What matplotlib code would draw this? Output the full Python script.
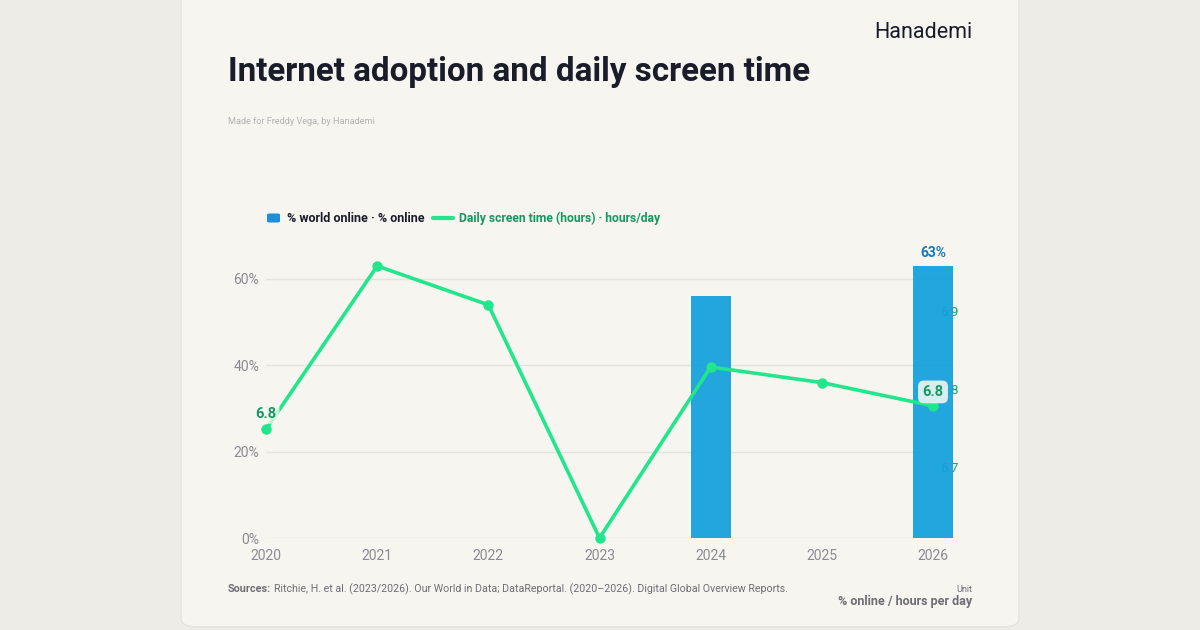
import numpy as np
import matplotlib
matplotlib.use("Agg")
import matplotlib.pyplot as plt
from matplotlib.patches import FancyBboxPatch
import matplotlib.transforms as mtransforms

# ---- data ----
years = ["2020", "2021", "2022", "2023", "2024", "2025", "2026"]
pct_online = [np.nan, np.nan, np.nan, np.nan, 56, np.nan, 63]
screen_time = [6.75, 6.96, 6.91, 6.61, 6.83, 6.81, 6.78]
left_ticks = [0, 20, 40, 60]
left_tick_labels = ["0%", "20%", "40%", "60%"]
right_ticks = [6.7, 6.8, 6.9]
right_tick_labels = ["6.7", "6.8", "6.9"]

BAR = "#12a0dc"
LINE = "#22e68b"
GREEN_TXT = "#13985f"
GREY = "#8a8b93"
DARK = "#1a1c2a"

plt.rcParams['font.family'] = ['Roboto', 'DejaVu Sans']

W, H = 1200, 630
fig = plt.figure(figsize=(12, 6.3), dpi=100)
fig.patch.set_facecolor("#eeece7")

def fx(x):
    return x / W

def fy(y):
    return 1 - y / H

card = FancyBboxPatch((fx(181), fy(627)), fx(838), fy(-30) - fy(627),
                      boxstyle="round,pad=0,rounding_size=0.014",
                      transform=fig.transFigure, facecolor="#f7f5f0",
                      edgecolor="#e4e2dc", linewidth=1, zorder=-5)
fig.patches.append(card)

# ---- axes ----
x = np.arange(len(years))
left, right = 266, 953
bottom, top = 538, 266
ax = fig.add_axes([fx(left), fy(bottom), fx(right - left), (bottom - top) / H])
ax.set_facecolor("none")
ax2 = ax.twinx()
ax2.set_facecolor("none")

xmax = (right - left) / ((933 - 266) / 6)
ax.set_xlim(0, xmax)
ax.set_ylim(0, 63)
ax2.set_ylim(min(screen_time), max(screen_time))

for a in (ax, ax2):
    for s in a.spines.values():
        s.set_visible(False)

ax.set_yticks(left_ticks)
ax.set_yticklabels(left_tick_labels)
ax.tick_params(axis="y", length=0, pad=5, labelsize=10, labelcolor=GREY)
ax.set_xticks(x)
ax.set_xticklabels(years)
ax.tick_params(axis="x", length=0, pad=8, labelsize=10, labelcolor=GREY)
ax.grid(axis="y", color="#e5e3de", linewidth=1)
ax.set_axisbelow(True)
ax2.set_yticks([])

# right-axis labels drawn inside, beneath the bars
trans_r = mtransforms.blended_transform_factory(ax.transAxes, ax2.transData)
for v, lab in zip(right_ticks, right_tick_labels):
    ax.text((940 - left) / (right - left), v, lab, transform=trans_r,
            ha="left", va="center", fontsize=9.5, color="#14a86a", zorder=1)

bars = ax.bar(x, pct_online, width=0.36, color=BAR, alpha=0.93,
              linewidth=0, zorder=2)
ax.text(x[6], pct_online[6] + 1.5, f"{pct_online[6]:.0f}%", ha="center",
        va="bottom", fontsize=10, fontweight="bold", color="#1479b8", zorder=3)

ax2.plot(x, screen_time, color=LINE, linewidth=2.6, marker="o",
         markersize=6.5, solid_capstyle="round", clip_on=False, zorder=3)

ax2.annotate(f"{screen_time[0]:.1f}", (x[0], screen_time[0]), xytext=(0, 6),
             textcoords="offset points", ha="center", va="bottom",
             fontsize=10.5, fontweight="bold", color=GREEN_TXT, zorder=4,
             bbox=dict(boxstyle="round,pad=0.2", fc="#f7f5f0", ec="none", alpha=0.75))
ax2.annotate(f"{screen_time[6]:.1f}", (x[6], screen_time[6]), xytext=(0, 5),
             textcoords="offset points", ha="center", va="bottom",
             fontsize=10.5, fontweight="bold", color=GREEN_TXT, zorder=4,
             bbox=dict(boxstyle="round,pad=0.3,rounding_size=0.4", fc="#eef6f4",
                       ec="none", alpha=0.9))

# ---- texts ----
fig.text(fx(228), fy(81), "Internet adoption and daily screen time",
         fontsize=23.9, fontweight="bold", color=DARK, va="baseline", ha="left")
fig.text(fx(228), fy(121), "Made for Freddy Vega, by Hanademi",
         fontsize=6.6, color="#b3b3b6", va="center", ha="left")
fig.text(fx(973), fy(32), "Hanademi", fontsize=15.5, color=DARK,
         va="center", ha="right")

# legend
leg_y = 218
lg = FancyBboxPatch((fx(267), fy(leg_y + 4.5)), fx(13), 9 / H,
                    boxstyle="round,pad=0,rounding_size=0.002",
                    transform=fig.transFigure, facecolor="#1e8fd8", edgecolor="none")
fig.patches.append(lg)
fig.text(fx(287), fy(leg_y), "% world online · % online", fontsize=9,
         fontweight="bold", color=DARK, va="center", ha="left")
fig.lines.append(plt.Line2D([fx(433), fx(453)], [fy(leg_y), fy(leg_y)],
                            transform=fig.transFigure, color=LINE, linewidth=3,
                            solid_capstyle="round"))
fig.text(fx(459), fy(leg_y), "Daily screen time (hours) · hours/day", fontsize=8.7,
         fontweight="bold", color=GREEN_TXT, va="center", ha="left")

# footer
t1 = fig.text(fx(228), fy(589), "Sources:", fontsize=7.8, fontweight="bold",
              color="#6d6e75", va="center", ha="left")
fig.canvas.draw()
bb = t1.get_window_extent()
fig.text(bb.x1 / W + fx(3), fy(589),
         "Ritchie, H. et al. (2023/2026). Our World in Data; DataReportal. (2020\u20132026). Digital Global Overview Reports.",
         fontsize=7.7, color="#6d6e75", va="center", ha="left")
fig.text(fx(972), fy(589), "Unit", fontsize=6.5, color="#6d6e75",
         va="center", ha="right")
fig.text(fx(972), fy(602), "% online / hours per day", fontsize=9,
         fontweight="bold", color="#6d6e75", va="center", ha="right")

fig.savefig("out.png", dpi=100, facecolor=fig.get_facecolor())
